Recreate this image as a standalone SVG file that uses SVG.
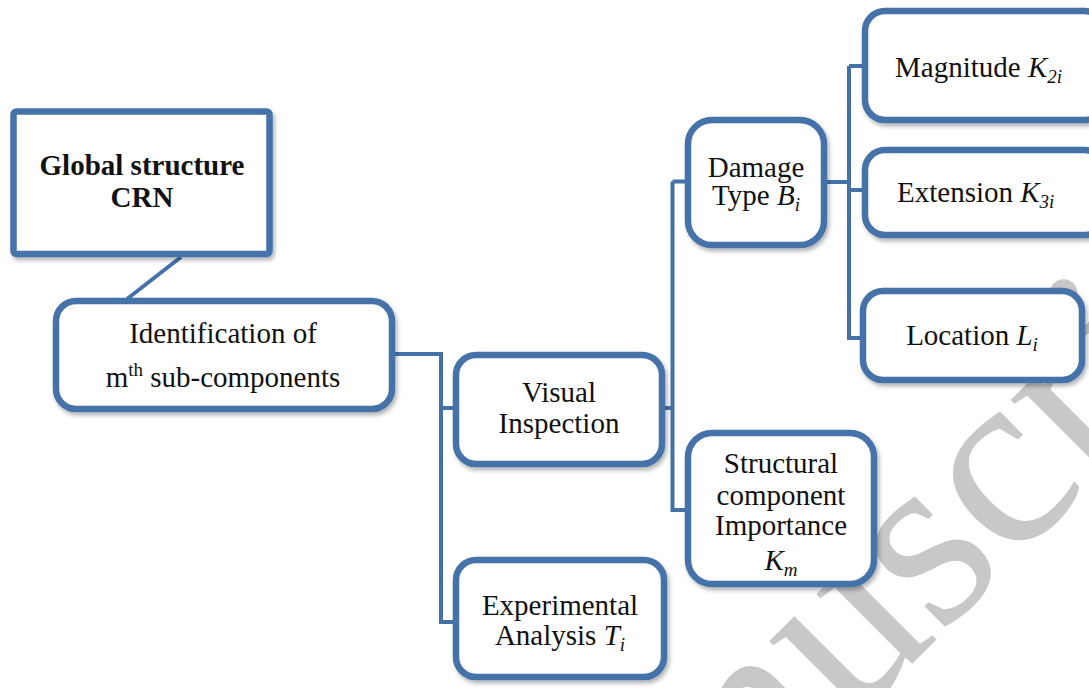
<svg xmlns="http://www.w3.org/2000/svg" width="1089" height="688" viewBox="0 0 1089 688">
<defs>
<filter id="sh" x="-10%" y="-10%" width="130%" height="130%">
<feDropShadow dx="2" dy="3" stdDeviation="2" flood-color="#000" flood-opacity="0.3"/>
</filter>
<style>
.box{fill:#fff;stroke:#4472A8;stroke-width:6.5;filter:url(#sh)}
.con{fill:none;stroke:#4472A8;stroke-width:4}
.t{font-family:"Liberation Serif","Times New Roman",serif;font-size:29px;fill:#111;text-anchor:middle}
.ts{text-anchor:start}
.b{font-weight:bold}
.i{font-style:italic}
.sub{font-style:italic;font-size:19px}
.wm{font-family:"Liberation Serif","Times New Roman",serif;font-size:255px;fill:#c8c8c8}
</style>
</defs>
<rect width="1089" height="688" fill="#fff"/>
<text class="wm" transform="translate(539,1037) rotate(-45)">manuscript</text>
<g id="connectors">
<line class="con" x1="181" y1="257" x2="127" y2="299"/>
<path class="con" d="M395 354 H441 V622 H455 M441 408 H455"/>
<path class="con" d="M664 408 H672.5 M672.5 181.5 V510 H687 M672.5 181.5 H687"/>
<path class="con" d="M826 182 H849 M849 66 V338 H862 M849 66 H864 M849 190 H864"/>
</g>
<g id="global">
<rect class="box" x="13.5" y="111.5" width="256" height="142.5" rx="3"/>
<text class="t b" x="142" y="175">Global structure</text>
<text class="t b" x="142" y="207">CRN</text>
</g>
<g id="identification">
<rect class="box" x="56" y="301" width="336" height="108" rx="20"/>
<text class="t" x="223" y="343">Identification of</text>
<text class="t" x="223" y="387">m<tspan font-size="19" dy="-11">th</tspan><tspan dy="11"> sub-components</tspan></text>
</g>
<g id="visual">
<rect class="box" x="456" y="355" width="206" height="109" rx="20"/>
<text class="t" x="559" y="402">Visual</text>
<text class="t" x="559" y="433">Inspection</text>
</g>
<g id="experimental">
<rect class="box" x="456" y="560" width="208" height="117" rx="20"/>
<text class="t" x="560" y="615">Experimental</text>
<text class="t" x="560" y="645">Analysis <tspan class="i">T</tspan><tspan class="sub" dy="6">i</tspan></text>
</g>
<g id="damage">
<rect class="box" x="688" y="120" width="136" height="125" rx="24"/>
<text class="t" x="756" y="177">Damage</text>
<text class="t" x="756" y="205">Type <tspan class="i">B</tspan><tspan class="sub" dy="6">i</tspan></text>
</g>
<g id="magnitude">
<rect class="box" x="865" y="11" width="240" height="109" rx="20"/>
<text class="t ts" x="895" y="77">Magnitude <tspan class="i">K</tspan><tspan class="sub" dy="6">2i</tspan></text>
</g>
<g id="extension">
<rect class="box" x="865" y="150" width="240" height="85" rx="20"/>
<text class="t ts" x="897" y="202">Extension <tspan class="i">K</tspan><tspan class="sub" dy="6">3i</tspan></text>
</g>
<g id="location">
<rect class="box" x="863" y="291" width="219" height="89" rx="20"/>
<text class="t" x="972" y="345">Location <tspan class="i">L</tspan><tspan class="sub" dy="6">i</tspan></text>
</g>
<g id="structural">
<rect class="box" x="688" y="433" width="186" height="151" rx="24"/>
<text class="t" x="781" y="473">Structural</text>
<text class="t" x="781" y="505">component</text>
<text class="t" x="781" y="535">Importance</text>
<text class="t" x="781" y="570"><tspan class="i">K</tspan><tspan class="sub" dy="6">m</tspan></text>
</g>
</svg>
